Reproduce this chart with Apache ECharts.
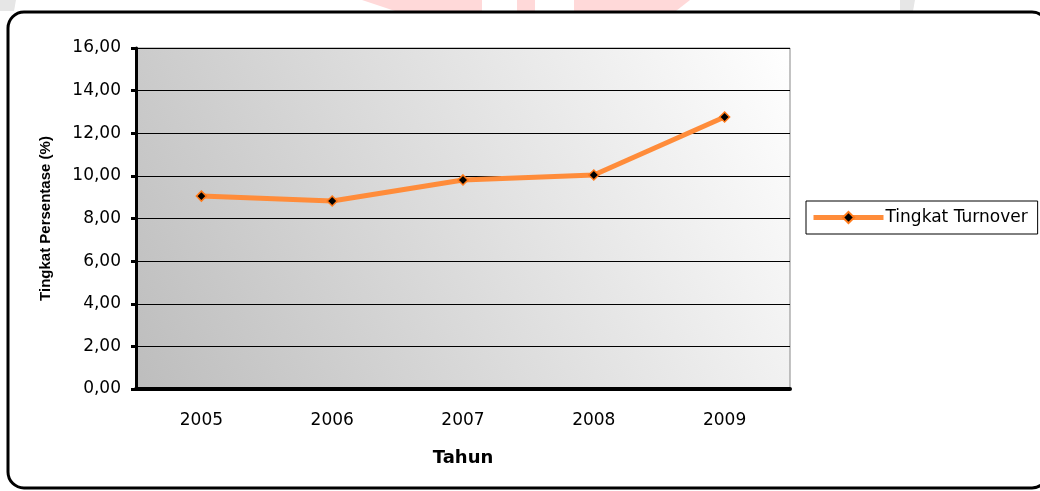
<!DOCTYPE html>
<html>
<head>
<meta charset="utf-8">
<script src="https://cdn.jsdelivr.net/npm/echarts@6/dist/echarts.min.js"></script>
<style>
html,body{margin:0;padding:0;background:#fff;}
#c{width:1040px;height:491px;}
</style>
</head>
<body>
<div id="c"></div>
<script>
const categories = ['2005', '2006', '2007', '2008', '2009'];
const turnoverValues = [9.05, 8.82, 9.81, 10.04, 12.76];
const seriesName = 'Tingkat Turnover';
const yAxisTitle = 'Tingkat Persentase (%)';
const xAxisTitle = 'Tahun';

const chart = echarts.init(document.getElementById('c'), null, {renderer: 'canvas'});
const font = '"DejaVu Sans", "Liberation Sans", Arial, sans-serif';
const fontV = '"Liberation Sans", Arial, sans-serif';
chart.setOption({
  animation: false,
  backgroundColor: '#fff',
  graphic: [
    {type: 'polygon', z: -10, shape: {points: [[362,0],[482,0],[482,11],[395,11]]}, style: {fill: '#ffd9d9'}},
    {type: 'rect', z: -10, shape: {x: 517, y: 0, width: 18, height: 11}, style: {fill: '#ffd9d9'}},
    {type: 'polygon', z: -10, shape: {points: [[574,0],[690,0],[676,11],[574,11]]}, style: {fill: '#ffd9d9'}},
    {type: 'polygon', z: -10, shape: {points: [[0,0],[16,0],[14,11],[0,11]]}, style: {fill: '#e6e6e6'}},
    {type: 'polygon', z: -10, shape: {points: [[900,0],[915,0],[913,11],[900,11]]}, style: {fill: '#e6e6e6'}},
    {type: 'rect', z: -5, shape: {x: 8, y: 12, width: 1040, height: 476, r: 16},
      style: {fill: 'rgba(255,255,255,1)', stroke: '#000', lineWidth: 3}}
  ],
  grid: {
    left: 136, right: 250, top: 48, bottom: 102,
    show: true,
    borderColor: '#888', borderWidth: 1,
    backgroundColor: {
      type: 'linear', x: 0, y: 1, x2: 1, y2: 0,
      colorStops: [{offset: 0, color: '#bdbdbd'}, {offset: 1, color: '#ffffff'}]
    }
  },
  legend: {
    data: [seriesName],
    left: 806, top: 201,
    orient: 'vertical',
    itemWidth: 70, itemHeight: 14, itemGap: 0,
    borderColor: '#000', borderWidth: 1,
    padding: [8, 10, 8, 5],
    lineStyle: {width: 5, color: '#ff8c3a'},
    textStyle: {fontFamily: font, fontSize: 17, color: '#000', padding: [0,0,0,-3]}
  },
  xAxis: {
    type: 'category',
    data: categories,
    boundaryGap: true,
    name: xAxisTitle,
    nameLocation: 'middle',
    nameGap: 60,
    nameTextStyle: {fontFamily: font, fontSize: 18, fontWeight: 'bold', color: '#000'},
    axisLine: {show: true, lineStyle: {color: '#000', width: 4}},
    axisTick: {show: false},
    axisLabel: {fontFamily: font, fontSize: 17, color: '#000', margin: 23},
    splitLine: {show: false}
  },
  yAxis: {
    type: 'value',
    min: 0, max: 16, interval: 2,
    name: yAxisTitle,
    nameLocation: 'middle',
    nameGap: 83,
    nameTextStyle: {fontFamily: fontV, fontSize: 15, fontWeight: 'bold', color: '#000'},
    axisLine: {show: true, lineStyle: {color: '#000', width: 3}},
    axisTick: {show: true, length: 5, lineStyle: {color: '#000', width: 3}},
    axisLabel: {fontFamily: font, fontSize: 17, color: '#000', margin: 15,
      formatter: v => v.toFixed(2).replace('.', ',')},
    splitLine: {show: true, lineStyle: {color: '#000', width: 1}}
  },
  series: [{
    name: seriesName,
    type: 'line',
    data: turnoverValues,
    symbol: 'diamond',
    symbolSize: 10,
    lineStyle: {color: '#ff8c3a', width: 5},
    itemStyle: {color: '#000', borderColor: '#ff7a1a', borderWidth: 1.5},
    z: 5
  }]
});
</script>
</body>
</html>
